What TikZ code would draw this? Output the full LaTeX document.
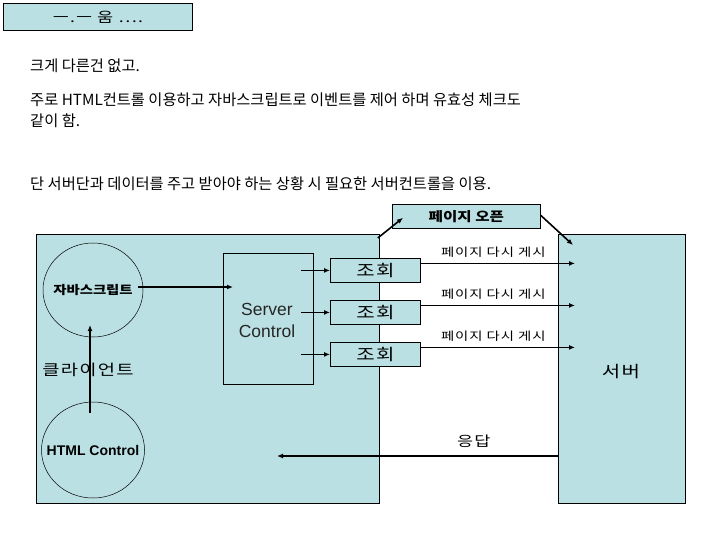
\documentclass[tikz,border=0pt]{standalone}
\usepackage{fontspec}
\setmainfont{Liberation Sans}
\newfontfamily\kr{Noto Sans CJK KR}
\newfontfamily\krw[FakeStretch=1.25,LetterSpace=8]{Noto Sans CJK KR}
\newfontfamily\krs[FakeStretch=1.2]{Noto Sans CJK KR}
\usetikzlibrary{shapes.geometric,arrows.meta}
\definecolor{boxblue}{RGB}{187,224,227}
\begin{document}
\begin{tikzpicture}[x=1pt,y=-1pt,
  box/.style={draw=black, line width=0.8pt, fill=boxblue, inner sep=0pt, anchor=north west},
  plain/.style={draw=black, line width=0.8pt, inner sep=0pt, anchor=north west},
  oval/.style={draw=black, line width=0.5pt, ellipse, inner sep=0pt},
  arr/.style={line width=1.6pt, -{Latex[length=6pt,width=5pt]}},
  body/.style={anchor=west, inner sep=0pt, font=\kr\fontsize{15.3}{18}\selectfont},
  small/.style={font=\krw\fontsize{11.5}{14}\selectfont},
  qbox/.style={box, minimum width=90pt, minimum height=24pt, font=\krw\fontsize{16}{16}\selectfont}
]
\useasboundingbox (0,0) rectangle (720,540);
\fill[white] (0,0) rectangle (720,540);

\node[box, minimum width=189pt, minimum height=27pt, font=\krw\fontsize{14}{16}\selectfont] (title) at (3,3) {ㅡ.ㅡ 움 ….};

\node[body] (t1) at (30,66) {크게 다른건 없고.};
\node[body] (t2) at (30,100) {주로 HTML컨트롤 이용하고 자바스크립트로 이벤트를 제어 하며 유효성 체크도};
\node[body] (t3) at (30,121) {같이 함.};
\node[body] (t4) at (30,184) {단 서버단과 데이터를 주고 받아야 하는 상황 시 필요한 서버컨트롤을 이용.};

\node[box, minimum width=148pt, minimum height=24pt, font=\krs\bfseries\fontsize{13}{14}\selectfont] (open) at (392,204) {페이지 오픈};

\node[box, minimum width=343pt, minimum height=269pt] (client) at (36,234) {};
\node[box, minimum width=127pt, minimum height=269pt] (server) at (558,234) {};

\node[plain, minimum width=90pt, minimum height=131pt] (sc) at (223,253) {};
\node[align=center, font=\fontsize{17.5}{22}\selectfont, text=black!85, inner sep=0pt] (sctext) at (267,320) {Server\\Control};

\node[oval, minimum width=100pt, minimum height=94pt,
  label={[font=\krs\bfseries\fontsize{12}{14}\selectfont, inner sep=0pt]center:자바스크립트}] (js) at (93,290) {};
\node[oval, minimum width=103pt, minimum height=96pt,
  label={[font=\bfseries\fontsize{14}{14}\selectfont, inner sep=0pt]center:HTML Control}] (html) at (93,450) {};

\node[qbox] (q1) at (330,258) {조회};
\node[qbox] (q2) at (330,300) {조회};
\node[qbox] (q3) at (330,342) {조회};

\node[font=\krw\fontsize{15}{16}\selectfont, inner sep=0pt] (clabel) at (88,370) {클라이언트};
\node[font=\krw\fontsize{16}{16}\selectfont, inner sep=0pt] (slabel) at (621,372) {서버};

% arrows
\draw[arr] ([xshift=-3,yshift=37]html.center) -- ([xshift=-3,yshift=-35]js.center);
\draw[arr] ([xshift=-5,yshift=3]js.east) -- ([xshift=10,yshift=3]js.east -| sc.west);
\coordinate (scx) at ([xshift=-13]sc.east);
\draw[arr] (q1.west -| scx) -- (q1.west);
\draw[arr] (q2.west -| scx) -- (q2.west);
\draw[arr] (q3.west -| scx) -- (q3.west);
\coordinate (sx) at ([xshift=17]server.west);
\draw[arr] ([yshift=7]q1.east) -- node[small, pos=0.47, above=2pt] {페이지 다시 게시} ([yshift=7]q1.east -| sx);
\draw[arr] ([yshift=7]q2.east) -- node[small, pos=0.47, above=2pt] {페이지 다시 게시} ([yshift=7]q2.east -| sx);
\draw[arr] ([yshift=7]q3.east) -- node[small, pos=0.47, above=2pt] {페이지 다시 게시} ([yshift=7]q3.east -| sx);
\draw[arr] ([xshift=-2,yshift=-4]client.north east) -- ([xshift=11,yshift=11]open.south west);
\draw[arr] ([yshift=1]open.east) -- ([xshift=15,yshift=-11]server.north west);
\coordinate (rend) at (277,456);
\draw[arr] (rend -| server.west) -- node[font=\krw\fontsize{14}{16}\selectfont, pos=0.3, above=4pt] {응답} (rend);
\end{tikzpicture}
\end{document}
